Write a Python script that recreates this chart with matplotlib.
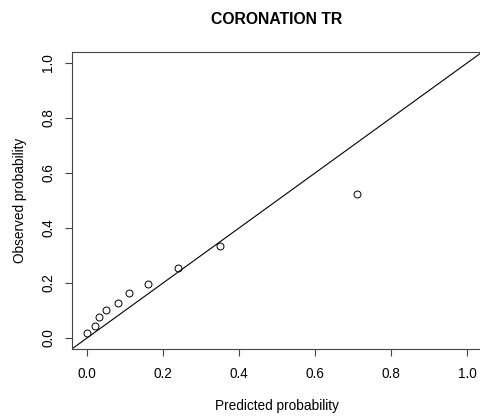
import numpy as np
import matplotlib.pyplot as plt

plt.rcParams['font.family'] = ['Liberation Sans', 'DejaVu Sans']

predicted = [0.001, 0.02, 0.031, 0.051, 0.081, 0.11, 0.16, 0.24, 0.35, 0.71]
observed = [0.017, 0.045, 0.075, 0.103, 0.126, 0.163, 0.195, 0.253, 0.335, 0.523]
ticks = [0.0, 0.2, 0.4, 0.6, 0.8, 1.0]

fig = plt.figure(figsize=(4.8, 4.18), dpi=100)
ax = fig.add_axes([0.1496, 0.165, 0.855, 0.7105])

ax.plot(predicted, observed, 'o', mfc='none', mec='black', ms=5, mew=0.7)
ax.plot([-0.04, 1.04], [-0.04, 1.04], color='black', lw=0.8)

ax.set_xlim(-0.04, 1.04)
ax.set_ylim(-0.04, 1.04)
ax.set_xticks(ticks)
ax.set_yticks(ticks)
ax.set_xticklabels(['%.1f' % t for t in ticks])
ax.set_yticklabels(['%.1f' % t for t in ticks], rotation=90, va='center')
ax.tick_params(length=5, width=0.8, labelsize=9.8, color='#444444')
ax.tick_params(axis='x', pad=8)
ax.tick_params(axis='y', pad=7)
ax.spines['right'].set_visible(False)
for s in ['left', 'bottom', 'top']:
    ax.spines[s].set_linewidth(0.8)
    ax.spines[s].set_color('#444444')

ax.set_xlabel('Predicted probability', fontsize=9.8, labelpad=13)
ax.set_ylabel('Observed probability', fontsize=9.8, labelpad=10.5)
ax.set_title('CORONATION TR', fontsize=11.3, fontweight='bold', pad=20)

fig.savefig('out.png', dpi=100)
